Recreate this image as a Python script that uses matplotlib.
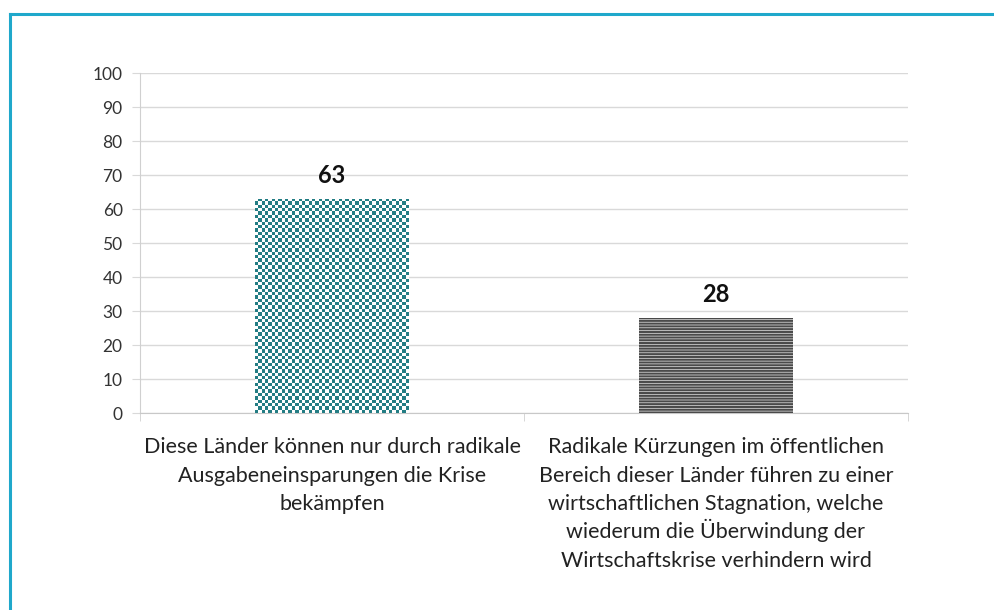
import numpy as np
import matplotlib
matplotlib.use("Agg")
import matplotlib.pyplot as plt
from matplotlib.lines import Line2D
from matplotlib.colors import ListedColormap

categories = [
    "Diese Länder können nur durch radikale\nAusgabeneinsparungen die Krise\nbekämpfen",
    "Radikale Kürzungen im öffentlichen\nBereich dieser Länder führen zu einer\nwirtschaftlichen Stagnation, welche\nwiederum die Überwindung der\nWirtschaftskrise verhindern wird",
]
values = [63, 28]
yticks = [0, 10, 20, 30, 40, 50, 60, 70, 80, 90, 100]

plt.rcParams['font.family'] = ['Lato', 'DejaVu Sans']
plt.rcParams['hatch.linewidth'] = 1.5

fig = plt.figure(figsize=(9.94, 6.10), dpi=100)
fig.patch.set_facecolor('white')
ax = fig.add_axes([140/994, 1-413/610, 768/994, 340/610])

x = np.arange(len(values))
width = 0.4
bars = ax.bar(x, values, width=width, color='none', edgecolor='none', zorder=3)

# checkerboard fill for first bar
b0 = bars[0]
nx, ny = 46, 64
cb = (np.add.outer(np.arange(ny), np.arange(nx)) % 2).astype(float)
cmap = ListedColormap(['white', '#237d84'])
im = ax.imshow(cb, cmap=cmap, interpolation='nearest', aspect='auto',
               extent=[b0.get_x(), b0.get_x()+b0.get_width(), 0, b0.get_height()],
               zorder=3)
im.set_clip_path(b0)

# horizontal stripes for second bar
b1 = bars[1]
b1.set_facecolor('#e6e6e6')
b1.set_hatch('------')
b1.set_edgecolor('#4a4a4a')
b1.set_linewidth(0)
b1._hatch_color = matplotlib.colors.to_rgba('#4a4a4a')

for xi, v in zip(x, values):
    ax.text(xi, v + 3.6, str(v), ha='center', va='bottom', fontsize=17,
            fontweight='bold', color='#111111')

ax.set_xlim(-0.5, 1.5)
ax.set_ylim(0, 100)
ax.set_yticks(yticks)
ax.set_yticklabels([str(t) for t in yticks], fontsize=12.5, color='#333333')
ax.grid(axis='y', color='#d9d9d9', linewidth=1, zorder=0)
ax.set_axisbelow(True)
for s in ['top', 'right']:
    ax.spines[s].set_visible(False)
ax.spines['left'].set_color('#d0d0d0')
ax.spines['bottom'].set_color('#c8c8c8')
ax.tick_params(axis='y', length=6, color='#d9d9d9', pad=6.5)
ax.set_xticks(x)
ax.set_xticklabels([])
ax.tick_params(axis='x', length=0)
ax.set_xticks([-0.5, 0.5, 1.5], minor=True)
ax.tick_params(axis='x', which='minor', length=6, color='#d0d0d0')

trans = matplotlib.transforms.blended_transform_factory(ax.transData, fig.transFigure)
for xi, lab in zip(x, categories):
    for j, line in enumerate(lab.split('\n')):
        ax.text(xi, 1 - (453 + 28.5*j)/610, line, transform=trans, ha='center', va='baseline',
                fontsize=15.5, color='#222222')

frame_color = '#1fa8cb'
fig.add_artist(Line2D([10/994, 1.0], [1-14/610, 1-14/610], transform=fig.transFigure,
                      color=frame_color, linewidth=2.2))
fig.add_artist(Line2D([10/994, 10/994], [0, 1-14/610], transform=fig.transFigure,
                      color=frame_color, linewidth=2.2))

fig.savefig('out.png', dpi=100, facecolor='white')
